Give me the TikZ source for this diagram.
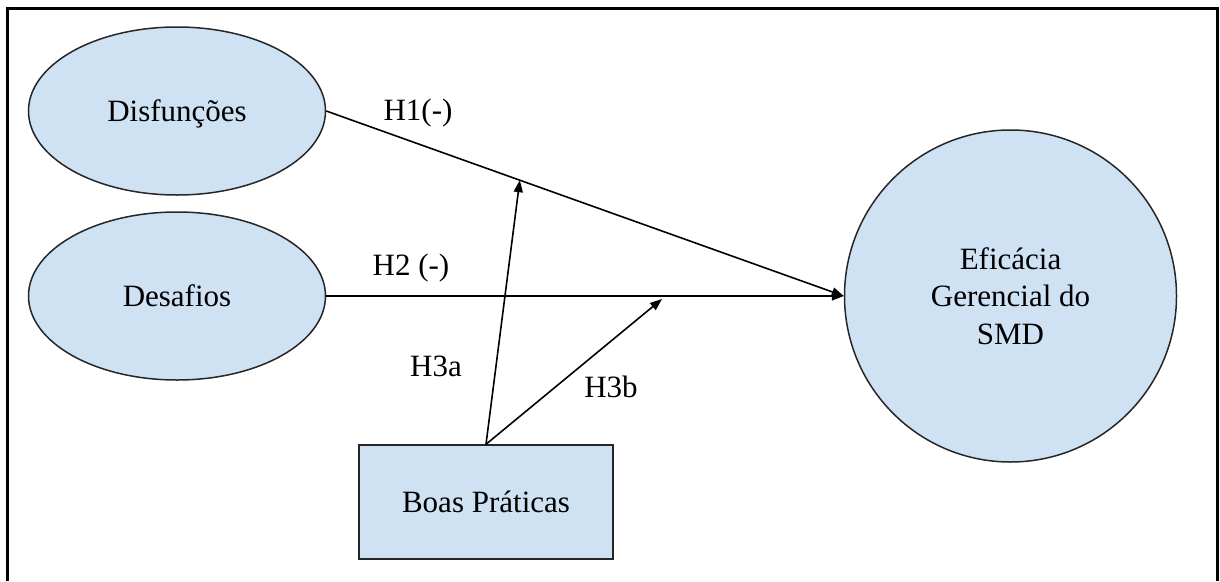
\documentclass[tikz,border=0pt]{standalone}
\usepackage{fontspec}
\setmainfont{Liberation Serif}
\usetikzlibrary{shapes.geometric,arrows.meta}
\definecolor{boxblue}{RGB}{207,226,243}
\begin{document}
\begin{tikzpicture}[x=1pt,y=-1pt,
  every node/.style={font=\fontsize{31}{37.5}\selectfont},
  shapeline/.style={draw=black!85,line width=1.5pt,fill=boxblue,inner sep=0pt},
  ell/.style={shapeline,ellipse,minimum width=297pt,minimum height=168pt,text depth=0pt},
  arr/.style={line width=1.6pt,-{Triangle[length=12pt,width=9pt]}},
  lbl/.style={inner sep=0pt}]
\useasboundingbox (0,0) rectangle (1220,581);
\draw[line width=3pt] (7,581) -- (7,8) -- (1217,8) -- (1217,581);
\node[ell] (dis) at (177,111) {Disfunções};
\node[ell] (des) at (177,296) {Desafios};
\node[shapeline,circle,minimum size=332pt,align=center] (eff) at (1010.5,296) {Eficácia\\Gerencial do\\SMD};
\node[shapeline,rectangle,minimum width=254pt,minimum height=114pt,text depth=0pt] (boas) at (486,502) {Boas Práticas};
\path (dis.east) -- (eff.west) coordinate[pos=0.374] (m1);
\coordinate (m2) at (662,299);
\draw[arr] (dis.east) -- (eff.west);
\draw[arr] (des.east) -- (eff.west);
\draw[arr] (boas.north) -- (m1);
\draw[arr] (boas.north) -- (m2);
\node[lbl] (h1) at (418,113) {H1(-)};
\node[lbl] (h2) at (411,268) {H2 (-)};
\node[lbl] (h3a) at (436,366) {H3a};
\node[lbl] (h3b) at (611,387) {H3b};
\end{tikzpicture}
\end{document}
